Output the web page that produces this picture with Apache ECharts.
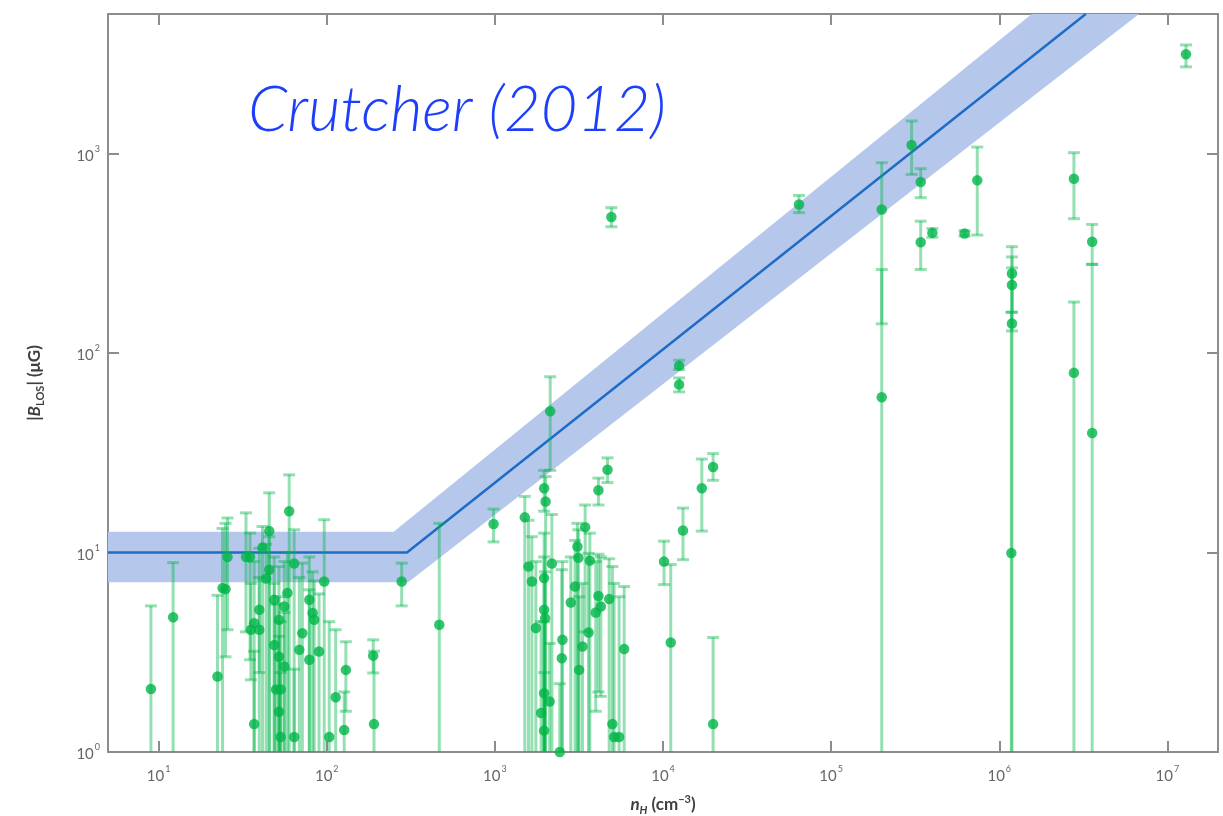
<!DOCTYPE html>
<html>
<head>
<meta charset="utf-8">
<script src="https://cdn.jsdelivr.net/npm/echarts@6/dist/echarts.min.js"></script>
<style>
  html, body { margin: 0; padding: 0; background: #ffffff; }
  #chart { width: 1223px; height: 816px; }
</style>
</head>
<body>
<div id="chart"></div>
<script>
// Zeeman |B_LOS| measurements: [n_H (cm^-3), |B_LOS| (uG), lower bound, upper bound]
// a lower bound of 0 means the bar runs off the bottom of the plot
const measurements = [
  [9.0, 2.07, 0, 5.4],
  [12.2, 4.74, 0, 8.9],
  [22.4, 2.39, 0, 6.1],
  [24.0, 6.63, 0, 13.2],
  [25.0, 6.55, 3.0, 14.0],
  [25.7, 9.5, 4.1, 14.9],
  [33.1, 9.5, 4.0, 15.8],
  [35.0, 9.5, 2.9, 12.5],
  [35.4, 4.1, 2.3, 7.0],
  [37.0, 4.42, 0, 9.0],
  [37.0, 1.38, 0, 3.2],
  [39.7, 5.16, 0, 10.5],
  [39.7, 4.1, 2.5, 7.5],
  [41.5, 10.6, 0, 13.5],
  [43.6, 7.4, 0, 11.0],
  [45.5, 12.8, 0, 19.9],
  [45.5, 8.2, 0, 12.0],
  [48.7, 5.8, 0, 9.5],
  [48.7, 3.44, 0, 7.0],
  [49.9, 2.06, 0, 5.5],
  [52.0, 4.6, 0, 8.5],
  [52.0, 3.0, 0, 6.0],
  [52.0, 1.59, 0, 3.8],
  [53.2, 2.06, 0, 4.5],
  [53.2, 1.19, 0, 2.5],
  [55.9, 5.36, 0, 9.0],
  [55.9, 2.68, 0, 5.0],
  [58.4, 6.26, 0, 10.0],
  [59.8, 16.1, 0, 24.5],
  [64.0, 8.8, 0, 13.0],
  [64.0, 1.19, 0, 2.6],
  [68.7, 3.25, 0, 7.5],
  [71.6, 3.94, 0, 8.85],
  [78.8, 5.8, 0, 9.5],
  [78.8, 2.9, 0, 6.5],
  [82.4, 4.97, 0, 8.0],
  [84.2, 4.6, 0, 7.2],
  [90.0, 3.19, 0, 6.2],
  [96.6, 7.16, 0, 14.6],
  [103.5, 1.19, 0, 4.5],
  [113, 1.88, 0, 4.1],
  [127, 1.29, 0, 2.0],
  [130, 2.58, 1.6, 3.57],
  [189, 3.04, 2.49, 3.65],
  [191, 1.38, 0, 3.2],
  [279, 7.16, 5.4, 8.85],
  [467, 4.34, 0, 14.0],
  [982, 13.9, 11.3, 16.5],
  [1507, 15.0, 0, 19.1],
  [1585, 8.5, 0, 14.5],
  [1660, 7.16, 0, 12.0],
  [1754, 4.18, 0, 9.0],
  [1884, 1.57, 0, 4.5],
  [1963, 21.0, 16.1, 25.8],
  [2003, 18.0, 0, 24.0],
  [1963, 7.44, 0, 12.5],
  [1963, 5.16, 0, 9.5],
  [1990, 4.69, 0, 8.0],
  [1963, 1.97, 0, 4.5],
  [1963, 1.28, 0, 2.5],
  [2117, 1.79, 0, 3.5],
  [2134, 51.0, 25.8, 76.0],
  [2183, 8.8, 0, 15.5],
  [2432, 1.0, 0, 2.2],
  [2500, 2.95, 0, 8.2],
  [2523, 3.65, 0, 9.0],
  [2829, 5.61, 0, 9.5],
  [3000, 6.75, 0, 11.5],
  [3098, 10.7, 0, 14.0],
  [3139, 9.4, 0, 13.0],
  [3170, 2.58, 0, 6.0],
  [3319, 3.38, 0, 7.0],
  [3443, 13.4, 4.0, 17.3],
  [3606, 3.97, 0, 9.9],
  [3673, 9.1, 0, 12.5],
  [3981, 5.0, 1.6, 9.0],
  [4130, 20.5, 17.3, 23.6],
  [4130, 6.06, 2.0, 9.8],
  [4266, 5.36, 1.9, 9.5],
  [4677, 26.0, 22.4, 29.8],
  [4786, 5.84, 0, 9.3],
  [4932, 480, 429, 535],
  [5000, 1.38, 0, 8.5],
  [5120, 1.19, 0, 7.0],
  [5480, 1.19, 0, 6.0],
  [5875, 3.28, 0, 6.75],
  [10140, 9.0, 6.9, 11.4],
  [11120, 3.54, 0, 8.7],
  [12470, 86.4, 82.6, 92.0],
  [12470, 69.4, 63.8, 75.0],
  [13150, 12.9, 9.2, 16.7],
  [17020, 21.0, 12.8, 29.4],
  [19860, 26.8, 23.0, 31.3],
  [19860, 1.38, 0, 3.75],
  [64420, 555, 505, 616],
  [2.0e5, 524, 140, 899],
  [2.0e5, 60, 0, 262],
  [3.01e5, 1102, 785, 1455],
  [3.41e5, 719, 600, 839],
  [3.41e5, 359, 262, 458],
  [4.0e5, 400, 380, 420],
  [6.22e5, 397, 385, 410],
  [7.4e5, 733, 390, 1077],
  [1.19e6, 250, 160, 341],
  [1.19e6, 219, 129, 303],
  [1.19e6, 140.6, 0, 267],
  [1.18e6, 9.93, 0, 160],
  [2.78e6, 747, 471, 1009],
  [2.78e6, 79.5, 0, 180],
  [3.57e6, 361, 278, 441],
  [3.57e6, 39.7, 0, 278],
  [1.29e7, 3142, 2716, 3499]
];

// Maximum-field relation: flat at 10 uG, then rising above n_H = 300 cm^-3
const relationLine = [[5, 10], [300, 10], [3.27e6, 5000]];
// Upper and lower edges of the shaded uncertainty band
const bandUpper = [[5, 12.7], [250, 12.7], [1.56e6, 5000]];
const bandLower = [[5, 7.1], [305, 7.1], [6.78e6, 5000]];

// Axis ranges and labelled decades
const xRange = [5, 2e7];
const yRange = [1, 5000];
const xTickExponents = [1, 2, 3, 4, 5, 6, 7];
const yTickExponents = [0, 1, 2, 3];

const GREEN = '#00b548';
const BAR = 'rgba(0, 180, 72, 0.42)';
const AXIS = '#8c8c8c';
const FONT = 'Lato, "Open Sans", sans-serif';
const NAME_COLOR = '#3f3f3f';

function decadeLabel(exponents) {
  return function (v) {
    const e = Math.round(Math.log10(v));
    if (Math.abs(Math.log10(v) - e) > 1e-6 || exponents.indexOf(e) < 0) return '';
    return '{b|10}{s|' + e + '}';
  };
}

const tickRich = {
  b: { fontSize: 15, color: '#666666', fontFamily: FONT, lineHeight: 20, verticalAlign: 'bottom' },
  s: { fontSize: 9, color: '#666666', fontFamily: FONT, lineHeight: 9, verticalAlign: 'top', padding: [1, 0, 0, 1] }
};

function axisCommon() {
  return {
    type: 'log',
    logBase: 10,
    axisLine: { show: true, lineStyle: { color: AXIS, width: 2 } },
    axisTick: { show: true, inside: true, length: 11, lineStyle: { color: AXIS, width: 2 } },
    minorTick: { show: false },
    splitLine: { show: false }
  };
}

const bandPolygon = bandUpper.concat(bandLower.slice().reverse());

function renderBand(params, api) {
  if (params.dataIndex !== 0) return null;
  const pts = bandPolygon.map(p => api.coord(p));
  return {
    type: 'polygon',
    shape: { points: pts },
    style: { fill: '#b5c8ec' }
  };
}

function renderErrorBar(params, api) {
  const n = api.value(0);
  const lo = api.value(2);
  const hi = api.value(3);
  const openBottom = lo <= yRange[0];
  const pLo = api.coord([n, openBottom ? yRange[0] : lo]);
  const pHi = api.coord([n, hi]);
  const half = 6;
  const style = { stroke: BAR, lineWidth: 3 };
  const children = [
    { type: 'line', shape: { x1: pLo[0], y1: pLo[1], x2: pHi[0], y2: pHi[1] }, style: style },
    { type: 'line', shape: { x1: pHi[0] - half, y1: pHi[1], x2: pHi[0] + half, y2: pHi[1] }, style: style }
  ];
  if (!openBottom) {
    children.push({ type: 'line', shape: { x1: pLo[0] - half, y1: pLo[1], x2: pLo[0] + half, y2: pLo[1] }, style: style });
  }
  return { type: 'group', children: children };
}

const chart = echarts.init(document.getElementById('chart'), null, { renderer: 'canvas' });

chart.setOption({
  animation: false,
  backgroundColor: '#ffffff',
  title: {
    text: 'Crutcher (2012)',
    left: 243,
    top: 74,
    textStyle: {
      fontFamily: FONT,
      fontStyle: 'italic',
      fontWeight: 300,
      fontSize: 63,
      color: '#1d3ffb'
    }
  },
  grid: { left: 108, right: 5, top: 14, bottom: 64, containLabel: false, outerBoundsMode: 'none' },
  xAxis: [
    Object.assign(axisCommon(), {
      min: xRange[0], max: xRange[1], position: 'bottom',
      axisLabel: { formatter: decadeLabel(xTickExponents), margin: 12, rich: tickRich, showMinLabel: false, showMaxLabel: false },
      name: '{i|n}{sub|H}{t| (cm}{sup|−3}{t|)}',
      nameLocation: 'middle',
      nameGap: 42,
      nameTextStyle: {
        rich: {
          i: { fontSize: 17, fontStyle: 'italic', fontWeight: 'bold', color: NAME_COLOR, fontFamily: FONT, lineHeight: 22 },
          sub: { fontSize: 11, fontStyle: 'italic', fontWeight: 'bold', color: NAME_COLOR, fontFamily: FONT, verticalAlign: 'bottom', lineHeight: 11 },
          t: { fontSize: 17, fontWeight: 'bold', color: NAME_COLOR, fontFamily: FONT, lineHeight: 22 },
          sup: { fontSize: 11, fontWeight: 'bold', color: NAME_COLOR, fontFamily: FONT, verticalAlign: 'top', lineHeight: 11 }
        }
      }
    }),
    Object.assign(axisCommon(), {
      min: xRange[0], max: xRange[1], position: 'top',
      axisLabel: { show: false }
    })
  ],
  yAxis: [
    Object.assign(axisCommon(), {
      min: yRange[0], max: yRange[1], position: 'left',
      axisLabel: { formatter: decadeLabel(yTickExponents), margin: 8, rich: tickRich, showMinLabel: true, showMaxLabel: false },
      name: '{t||}{i|B}{sub|LOS}{t|| (μG)}',
      nameLocation: 'middle',
      nameRotate: 90,
      nameGap: 62,
      nameTextStyle: {
        rich: {
          i: { fontSize: 17, fontStyle: 'italic', fontWeight: 'bold', color: NAME_COLOR, fontFamily: FONT, lineHeight: 22 },
          sub: { fontSize: 11, fontWeight: 'bold', color: NAME_COLOR, fontFamily: FONT, verticalAlign: 'bottom', lineHeight: 11 },
          t: { fontSize: 17, fontWeight: 'bold', color: NAME_COLOR, fontFamily: FONT, lineHeight: 22 }
        }
      }
    }),
    Object.assign(axisCommon(), {
      min: yRange[0], max: yRange[1], position: 'right',
      axisLabel: { show: false }
    })
  ],
  series: [
    {
      name: 'band',
      type: 'custom',
      xAxisIndex: 0, yAxisIndex: 0,
      data: bandPolygon,
      renderItem: renderBand,
      silent: true,
      z: 1
    },
    {
      name: 'relation',
      type: 'line',
      xAxisIndex: 0, yAxisIndex: 0,
      data: relationLine,
      showSymbol: false,
      symbol: 'none',
      lineStyle: { color: '#1f6cc6', width: 2.5 },
      z: 2
    },
    {
      name: 'error bars',
      type: 'custom',
      xAxisIndex: 0, yAxisIndex: 0,
      data: measurements,
      encode: { x: 0, y: 1 },
      renderItem: renderErrorBar,
      z: 3
    },
    {
      name: 'measurements',
      type: 'scatter',
      xAxisIndex: 0, yAxisIndex: 0,
      data: measurements.map(m => [m[0], m[1]]),
      symbol: 'circle',
      symbolSize: 10.5,
      itemStyle: { color: GREEN },
      z: 4
    }
  ]
});
</script>
</body>
</html>
